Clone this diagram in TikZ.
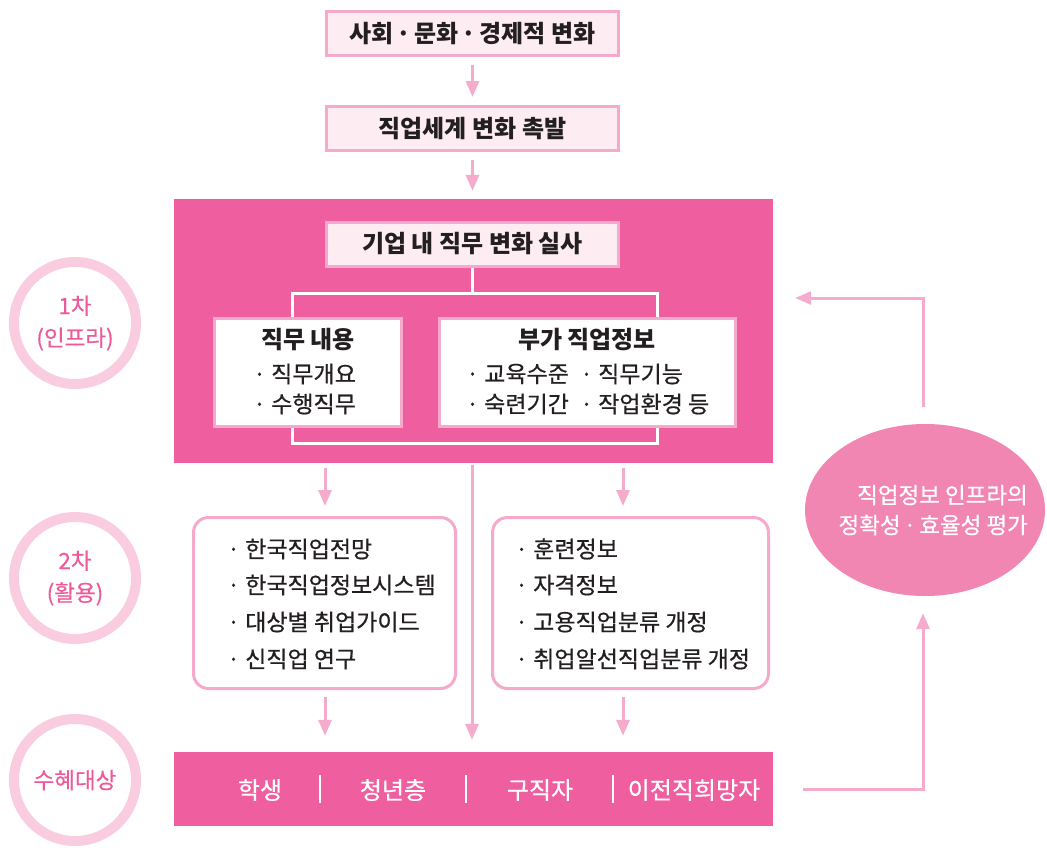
\documentclass[tikz,border=0pt]{standalone}
\usepackage{fontspec}
\setmainfont{Noto Sans CJK KR}
\newfontfamily\krmed{Noto Sans CJK KR}[FakeBold=0.6]
\usetikzlibrary{arrows.meta,shapes.geometric}
\definecolor{mag}{HTML}{EF5FA0}
\definecolor{lpink}{HTML}{F6AACB}
\definecolor{apink}{HTML}{F5ABCC}
\definecolor{fillpink}{HTML}{FDEDF3}
\definecolor{ringc}{HTML}{F9CCDF}
\definecolor{ellfill}{HTML}{F186B2}
\definecolor{txtpink}{HTML}{EC5A9A}
\definecolor{txt}{HTML}{231F20}
\newcommand{\mdot}{\kern3pt·\kern3pt}
\begin{document}
\begin{tikzpicture}[x=1pt,y=-1pt,
  lightbox/.style={draw=lpink,line width=3pt,fill=fillpink,minimum width=292pt,minimum height=44pt,inner sep=0pt,text=txt,font=\fontsize{24}{28}\selectfont\bfseries},
  whitebox/.style={draw=lpink,line width=3pt,fill=white,inner sep=0pt},
  listbox/.style={draw=lpink,line width=3pt,fill=white,rounded corners=15pt,inner sep=0pt},
  magbox/.style={fill=mag,inner sep=0pt},
  arr/.style={draw=apink,line width=3pt,-{Triangle[length=16pt,width=13pt]}},
  wline/.style={draw=white,line width=3pt},
  ringnode/.style={circle,draw=ringc,line width=10pt,minimum size=122pt,inner sep=0pt,text=txtpink,align=center,font=\fontsize{22.5}{32}\krmed},
  titletext/.style={text=txt,font=\fontsize{24}{28}\selectfont\bfseries,inner sep=0pt},
  itemtext/.style={text=txt,font=\fontsize{23}{27}\krmed,inner sep=0pt,anchor=west},
  bartext/.style={text=white,font=\fontsize{24}{28}\krmed,inner sep=0pt}
]
\useasboundingbox (0,0) rectangle (1047,847);

% top chain
\node[lightbox] (top) at (472.5,33.5) {사회\mdot 문화\mdot 경제적 변화};
\node[lightbox] (chg) at (472.5,128.5) {직업세계 변화 촉발};
\node[magbox,minimum width=599pt,minimum height=264pt] (mag) at (473.5,331) {};
\draw[arr,shorten <=8pt,shorten >=8pt] (top) -- (chg);
\draw[arr,shorten <=8pt,shorten >=8pt] (chg) -- (mag.north -| chg);

% inside magenta
\node[lightbox] (inner) at (472.5,244) {기업 내 직무 변화 실사};
\node[whitebox,minimum width=187pt,minimum height=108pt] (lbox) at (308,372.5) {};
\node[whitebox,minimum width=296pt,minimum height=108pt] (rbox) at (587.5,372.5) {};
\coordinate (bl) at (292,293);
\coordinate (br) at (657,293);
\coordinate (bbl) at (292,443);
\coordinate (bbr) at (657,443);
\draw[wline] (inner.south) -- (inner.south |- bl);
\draw[wline] (lbox.north -| bl) -- (bl) -- (br) -- (rbox.north -| br);
\draw[wline] (lbox.south -| bbl) -- (bbl) -- (bbr) -- (rbox.south -| bbr);

\node[titletext] (lt) at (308,340) {직무 내용};
\node[itemtext] (l1) at (253,374) {· 직무개요};
\node[itemtext] (l2) at (253,404) {· 수행직무};
\node[titletext] (rt) at (587,340) {부가 직업정보};
\node[itemtext] (r1) at (466,374) {· 교육수준};
\node[itemtext] (r2) at (580,374) {· 직무기능};
\node[itemtext] (r3) at (466,404) {· 숙련기간};
\node[itemtext] (r4) at (580,404) {· 작업환경 등};

% second level
\node[listbox,minimum width=262pt,minimum height=171pt] (lb2) at (324.5,603) {};
\node[listbox,minimum width=276pt,minimum height=171pt] (rb2) at (630.5,603) {};
\node[itemtext] at (227,549) {· 한국직업전망};
\node[itemtext] at (227,585) {· 한국직업정보시스템};
\node[itemtext] at (227,622) {· 대상별 취업가이드};
\node[itemtext] at (227,659) {· 신직업 연구};
\node[itemtext] at (515,549) {· 훈련정보};
\node[itemtext] at (515,585) {· 자격정보};
\node[itemtext] at (515,622) {· 고용직업분류 개정};
\node[itemtext] at (515,659) {· 취업알선직업분류 개정};

% bottom bar
\node[magbox,minimum width=599pt,minimum height=74pt] (bar) at (473.5,789) {};
\node[bartext] at (260,790) {학생};
\node[bartext] at (393,790) {청년층};
\node[bartext] at (540,790) {구직자};
\node[bartext] at (694,790) {이전직희망자};
\foreach \sx in {320,466,613} \draw[white,line width=2.2pt] (\sx,775) -- (\sx,803);

% arrows between levels
\coordinate (ax) at (325,0);
\coordinate (cx) at (472,0);
\coordinate (rx) at (623,0);
\draw[arr,shorten <=5pt,shorten >=10pt] (mag.south -| ax) -- (lb2.north -| ax);
\draw[arr,shorten <=5pt,shorten >=10pt] (mag.south -| rx) -- (rb2.north -| rx);
\draw[arr,shorten <=2pt,shorten >=12pt] (mag.south -| cx) -- (bar.north -| cx);
\draw[arr,shorten <=7pt,shorten >=16pt] (lb2.south -| ax) -- (bar.north -| ax);
\draw[arr,shorten <=7pt,shorten >=16pt] (rb2.south -| rx) -- (bar.north -| rx);

% left rings
\node[ringnode] (c1) at (75,323) {1차\\(인프라)};
\node[ringnode] (c2) at (75,578) {2차\\(활용)};
\node[ringnode] (c3) at (75,780) {수혜대상};

% evaluation ellipse and feedback
\node[ellipse,fill=ellfill,minimum width=240pt,minimum height=172pt,inner sep=0pt] (ell) at (925,510) {};
\node[text=white,align=right,inner sep=0pt,font=\fontsize{22.5}{30}\krmed,anchor=east] (elltxt) at (1028,510) {직업정보 인프라의\\정확성\mdot 효율성 평가};
\coordinate (fb) at (923,789);
\coordinate (ft) at (923,298);
\draw[arr,shorten >=17pt] ([xshift=30pt]bar.east) -- (fb) -- (ell.south -| fb);
\draw[arr,shorten >=22pt] ([yshift=17pt]ell.north -| ft) -- (ft) -- (mag.east |- ft);
\end{tikzpicture}
\end{document}
